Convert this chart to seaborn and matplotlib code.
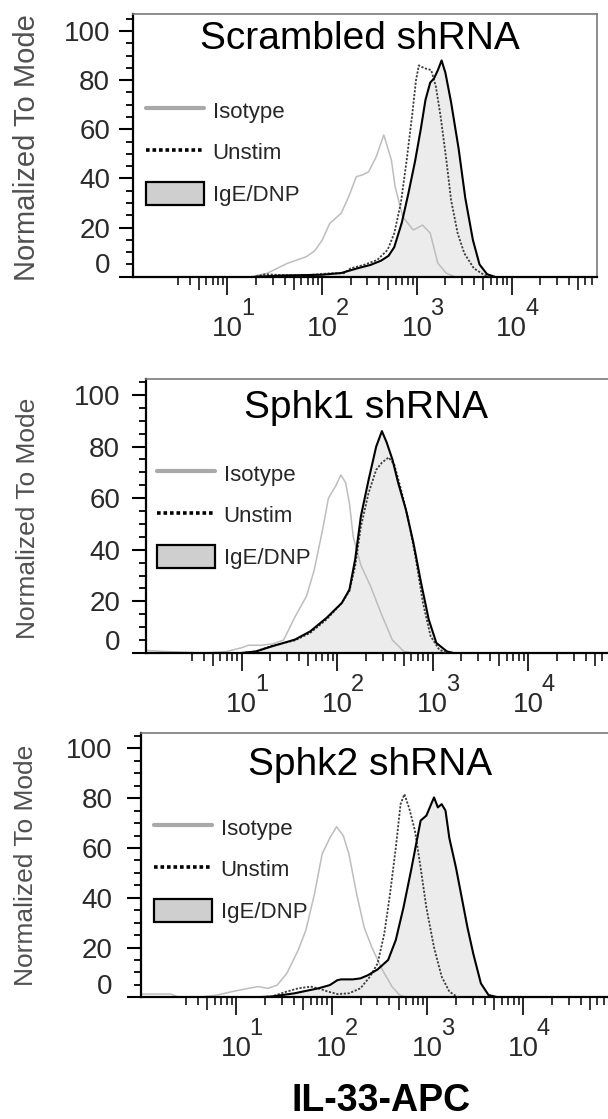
import matplotlib
matplotlib.use("Agg")
import numpy as np
import pandas as pd
import matplotlib.pyplot as plt
import matplotlib.transforms as mtrans
from matplotlib.lines import Line2D
from matplotlib.patches import Patch
from matplotlib.ticker import FixedLocator, NullLocator, NullFormatter
import seaborn as sns

sns.set_theme(style="white")
plt.rcParams["font.family"] = ["Liberation Sans", "DejaVu Sans"]
NARROW = ["Liberation Sans Narrow", "Liberation Sans", "DejaVu Sans"]

# ---------------- data (log10 intensity, % of mode) ----------------
panel_titles = ["Scrambled shRNA", "Sphk1 shRNA", "Sphk2 shRNA"]
series_names = ["Isotype", "Unstim", "IgE/DNP"]
y_ticks = [0, 20, 40, 60, 80, 100]
x_decades = [1, 2, 3, 4]
x_label = "IL-33-APC"
y_label = "Normalized To Mode"

scr_iso_log = [1.25, 1.42, 1.63, 1.83, 1.92, 2.00, 2.08, 2.20, 2.28, 2.36, 2.43, 2.49, 2.57, 2.65,
               2.73, 2.77, 2.85, 2.96, 3.06, 3.14, 3.22, 3.31, 3.40]
scr_iso_pct = [0, 1.4, 5.4, 8.1, 10.5, 14.9, 21.7, 25.8, 32.6, 40.7, 41.5, 42.7, 48.8, 57.7,
               47.5, 36.6, 24.4, 19.0, 21.0, 17.7, 5.5, 1.4, 0]
scr_uns_log = [1.30, 1.40, 1.56, 1.80, 2.09, 2.23, 2.30, 2.44, 2.58, 2.69, 2.76, 2.83, 2.89, 2.95,
               2.99, 3.02, 3.08, 3.15, 3.20, 3.25, 3.31, 3.36, 3.43, 3.50, 3.60, 3.71, 3.80]
scr_uns_pct = [0, 1.0, 0.7, 0.5, 1.4, 1.4, 3.4, 4.8, 6.8, 10.9, 17.6, 30.0, 47.0, 66.0,
               80.0, 86.0, 84.8, 84.1, 77.3, 65.1, 47.5, 31.2, 17.6, 9.5, 3.4, 0.7, 0]
scr_ige_log = [1.30, 1.60, 2.00, 2.20, 2.37, 2.51, 2.62, 2.70, 2.76, 2.84, 2.91, 2.98, 3.04, 3.09,
               3.14, 3.18, 3.22, 3.26, 3.30, 3.36, 3.44, 3.51, 3.59, 3.66, 3.74, 3.82]
scr_ige_pct = [0, 0.5, 0.8, 1.5, 3.4, 4.8, 6.5, 8.5, 12.0, 22.0, 34.0, 47.0, 60.0, 72.0,
               79.0, 80.7, 84.0, 88.0, 83.0, 71.0, 52.0, 32.0, 15.0, 5.0, 1.0, 0]

sp1_iso_log = [0.0, 0.2, 0.6, 0.83, 1.0, 1.07, 1.20, 1.32, 1.44, 1.56, 1.68, 1.76, 1.85, 1.91,
               1.99, 2.04, 2.09, 2.13, 2.17, 2.25, 2.35, 2.46, 2.58, 2.70, 2.80]
sp1_iso_pct = [1.0, 0.6, 0, 0.5, 2.0, 3.0, 3.0, 3.5, 5.0, 14.0, 22.0, 32.0, 48.0, 60.0,
               65.0, 69.0, 66.0, 58.0, 45.0, 34.0, 26.0, 15.5, 5.0, 0.6, 0]
sp1_uns_log = [1.0, 1.15, 1.32, 1.56, 1.72, 1.89, 2.05, 2.13, 2.19, 2.25, 2.33, 2.41, 2.47, 2.54,
               2.60, 2.66, 2.74, 2.82, 2.90, 2.98, 3.07, 3.15]
sp1_uns_pct = [0, 0.6, 2.8, 4.9, 7.8, 13.0, 19.4, 24.0, 33.7, 49.0, 62.0, 71.0, 73.8, 75.8,
               73.0, 64.8, 53.0, 37.6, 19.4, 6.5, 1.3, 0]
sp1_ige_log = [1.0, 1.15, 1.32, 1.56, 1.72, 1.89, 2.05, 2.13, 2.19, 2.25, 2.33, 2.41, 2.47, 2.52,
               2.58, 2.64, 2.72, 2.80, 2.88, 2.96, 3.04, 3.15, 3.22]
sp1_ige_pct = [0, 0.6, 2.6, 5.2, 8.4, 13.6, 19.4, 24.6, 36.3, 53.0, 67.0, 80.0, 86.0, 81.6,
               75.0, 66.0, 55.7, 42.7, 27.2, 13.0, 3.9, 0.6, 0]

sp2_iso_log = [0.0, 0.32, 0.40, 0.60, 0.80, 0.96, 1.13, 1.23, 1.33, 1.43, 1.53, 1.65, 1.73, 1.82,
               1.90, 1.98, 2.05, 2.12, 2.18, 2.26, 2.34, 2.42, 2.53, 2.63, 2.71, 2.79]
sp2_iso_pct = [1.3, 1.3, 0, 0, 0.9, 2.3, 3.6, 4.3, 3.6, 4.9, 9.6, 19.0, 27.0, 41.6,
               57.6, 64.0, 68.5, 65.0, 57.6, 41.6, 28.0, 20.0, 11.0, 4.3, 0.9, 0]
sp2_uns_log = [1.20, 1.37, 1.53, 1.65, 1.78, 1.86, 1.96, 2.06, 2.18, 2.30, 2.40, 2.48, 2.55, 2.61,
               2.67, 2.72, 2.76, 2.81, 2.87, 2.93, 2.99, 3.07, 3.15, 3.23, 3.32]
sp2_uns_pct = [0, 0.3, 2.3, 3.6, 4.3, 3.6, 2.3, 1.3, 1.6, 3.6, 8.3, 13.6, 25.6, 41.6,
               60.0, 77.6, 81.6, 76.0, 67.0, 52.0, 36.0, 20.0, 8.3, 2.3, 0]
sp2_ige_log = [1.20, 1.37, 1.61, 1.86, 1.98, 2.06, 2.10, 2.22, 2.30, 2.38, 2.48, 2.59, 2.67, 2.75,
               2.83, 2.89, 2.93, 2.99, 3.04, 3.07, 3.11, 3.15, 3.19, 3.23, 3.30, 3.36, 3.42, 3.48,
               3.56, 3.64, 3.74]
sp2_ige_pct = [0, 0.3, 1.6, 3.6, 4.9, 6.9, 7.2, 7.2, 7.6, 8.9, 11.2, 15.0, 23.0, 36.0,
               51.0, 63.0, 71.0, 73.0, 77.6, 80.3, 76.3, 77.6, 75.0, 64.0, 52.0, 40.0, 28.0, 17.6,
               5.6, 0.9, 0]

# ---------------- layout (pixels) ----------------
W, H, DPI = 608, 1119, 100
panels = [
    dict(title=panel_titles[0], iso=(scr_iso_log, scr_iso_pct), uns=(scr_uns_log, scr_uns_pct),
         ige=(scr_ige_log, scr_ige_pct), box=(132.7, 14.0, 597.0, 276.7), ymax=106.9,
         tpos=(360, 49), leg=(146, 98.7), ylab=(27, 148, 21), ypad=6.3),
    dict(title=panel_titles[1], iso=(sp1_iso_log, sp1_iso_pct), uns=(sp1_uns_log, sp1_uns_pct),
         ige=(sp1_ige_log, sp1_ige_pct), box=(146.0, 379.0, 614.0, 653.0), ymax=106.2,
         tpos=(366, 418), leg=(157, 461.7), ylab=(28, 518, 19), ypad=8.6),
    dict(title=panel_titles[2], iso=(sp2_iso_log, sp2_iso_pct), uns=(sp2_uns_log, sp2_uns_pct),
         ige=(sp2_ige_log, sp2_ige_pct), box=(140.5, 732.7, 609.0, 997.3), ymax=106.3,
         tpos=(370, 775), leg=(154, 815.7), ylab=(26, 865, 19), ypad=10.0),
]
XMAX_LOG = 4.9

fig = plt.figure(figsize=(W / DPI, H / DPI), dpi=DPI)
fig.patch.set_facecolor("white")

minor_x = [m * 10.0 ** d for d in range(0, 5) for m in range(2, 10)
           if m != 5 and not (d == 0 and m == 2) and m * 10.0 ** d < 10 ** XMAX_LOG]
mid_x = [5 * 10.0 ** d for d in range(0, 5) if 5 * 10.0 ** d < 10 ** XMAX_LOG]
minor_y = [v for v in range(5, 106, 5) if v % 20 != 0]

ISO_C, UNS_C, IGE_C, FILL_C = "#bdbdbd", "#3c3c3c", "#000000", "#ececec"

for p in panels:
    l, t, r, b = p["box"]
    ax = fig.add_axes([l / W, 1 - b / H, (r - l) / W, (b - t) / H])
    ax.set_facecolor("white")

    def frame(pair, name):
        lg, pc = pair
        return pd.DataFrame({"x": 10.0 ** np.array(lg), "y": np.array(pc, float), "s": name})

    d_iso = frame(p["iso"], series_names[0])
    d_uns = frame(p["uns"], series_names[1])
    d_ige = frame(p["ige"], series_names[2])

    ax.fill_between(d_ige["x"], 0, d_ige["y"], color=FILL_C, lw=0, zorder=1)
    sns.lineplot(data=d_iso, x="x", y="y", ax=ax, color=ISO_C, lw=1.1, estimator=None, zorder=2)
    sns.lineplot(data=d_uns, x="x", y="y", ax=ax, color=UNS_C, lw=1.3, estimator=None, zorder=3,
                 linestyle=(0, (1.2, 0.9)))
    sns.lineplot(data=d_ige, x="x", y="y", ax=ax, color=IGE_C, lw=1.5, estimator=None, zorder=4)

    ax.set_xscale("log")
    ax.set_xlim(1, 10 ** XMAX_LOG)
    ax.set_ylim(0, p["ymax"])
    ax.set_xlabel("")
    ax.set_ylabel("")
    ax.grid(False)

    # spines
    for s in ("left", "bottom"):
        ax.spines[s].set_color("black")
        ax.spines[s].set_linewidth(1.6)
    for s in ("top", "right"):
        ax.spines[s].set_color("#7a7a7a")
        ax.spines[s].set_linewidth(1.2)

    # x ticks
    ax.xaxis.set_major_locator(FixedLocator([10.0 ** k for k in x_decades]))
    ax.xaxis.set_minor_locator(FixedLocator(minor_x))
    ax.xaxis.set_major_formatter(NullFormatter())
    ax.xaxis.set_minor_formatter(NullFormatter())
    ax.tick_params(axis="x", which="major", direction="out", length=13, width=1.2,
                   color="black", bottom=True, top=False)
    ax.tick_params(axis="x", which="minor", direction="out", length=5.8, width=1.1,
                   color="black", bottom=True, top=False)
    sec = ax.secondary_xaxis("bottom")
    sec.set_xticks(mid_x)
    sec.xaxis.set_minor_locator(NullLocator())
    sec.xaxis.set_major_formatter(NullFormatter())
    sec.tick_params(axis="x", which="major", direction="out", length=9.4, width=1.1,
                    color="black", labelbottom=False)
    sec.spines["bottom"].set_visible(False)

    # x tick labels: 10 with raised exponent
    xt = ax.get_xaxis_transform()
    for k in x_decades:
        ax.text(10.0 ** k, 0, "10", transform=xt + mtrans.ScaledTranslation(0, -42.5 / 72, fig.dpi_scale_trans),
                ha="center", va="baseline", fontsize=20, family=NARROW, color="#2a2a2a")
        ax.text(10.0 ** k, 0, str(k), transform=xt + mtrans.ScaledTranslation(9.7 / 72, -27.4 / 72, fig.dpi_scale_trans),
                ha="left", va="baseline", fontsize=17, family=NARROW, color="#2a2a2a")

    # y ticks
    ax.set_yticks(y_ticks)
    ax.yaxis.set_minor_locator(FixedLocator(minor_y))
    ax.set_yticklabels([""] + [str(v) for v in y_ticks[1:]], fontsize=20, family=NARROW, color="#2a2a2a")
    ax.tick_params(axis="y", which="major", direction="out", length=10, width=1.5,
                   color="black", left=True, right=False, pad=p["ypad"])
    ax.tick_params(axis="y", which="minor", direction="out", length=4.8, width=1.3,
                   color="black", left=True, right=False)
    yt = ax.get_yaxis_transform()
    ax.text(0, y_ticks[0], str(y_ticks[0]),
            transform=yt + mtrans.ScaledTranslation(-(10 + p["ypad"]) / 72, 7.5 / 72, fig.dpi_scale_trans),
            ha="right", va="center", fontsize=20, family=NARROW, color="#2a2a2a")

    # title
    fig.text(p["tpos"][0] / W, 1 - p["tpos"][1] / H, p["title"], ha="center", va="baseline",
             fontsize=28, color="black")

    # y label
    yx, yy, ys = p["ylab"]
    fig.text(yx / W, 1 - yy / H, y_label, rotation=90, ha="center", va="center",
             fontsize=ys, color="#505050")

    # legend
    handles = [Line2D([], [], color="#a9a9a9", lw=3.0),
               Line2D([], [], color="black", lw=2.6, linestyle=(0, (1.0, 0.8))),
               Patch(facecolor="#cfcfcf", edgecolor="black", linewidth=1.6)]
    ax.legend(handles, series_names, loc="upper left",
              bbox_to_anchor=(p["leg"][0] / W, 1 - p["leg"][1] / H), bbox_transform=fig.transFigure,
              frameon=False, borderpad=0, borderaxespad=0, fontsize=16,
              handlelength=2.6, handleheight=1.2, handletextpad=0.4, labelspacing=0.8)

fig.text(381 / W, 1 - 1111 / H, x_label, ha="center", va="baseline", fontsize=27,
         fontweight="bold", color="black")

fig.savefig("out.png", dpi=DPI, facecolor="white")
